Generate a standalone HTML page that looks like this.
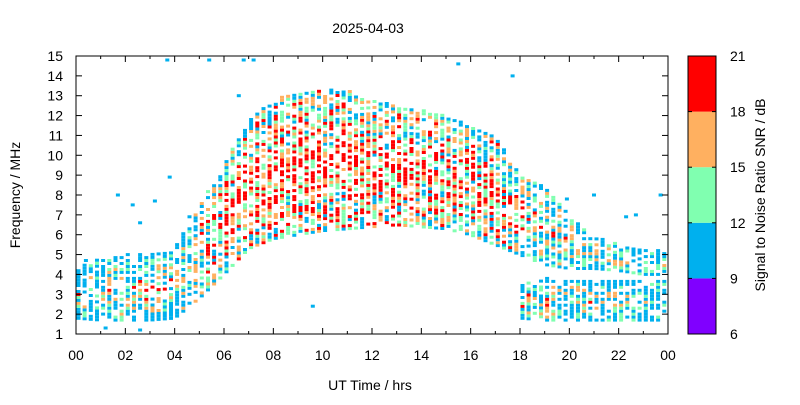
<!DOCTYPE html>
<html><head><meta charset="utf-8"><style>
body{margin:0;background:#fff;}
svg text{font-family:"Liberation Sans",sans-serif;font-size:14px;fill:#000;}
</style></head><body>
<svg id="chart" width="800" height="400" xmlns="http://www.w3.org/2000/svg">
<rect width="800" height="400" fill="#fff"/>
<text x="368" y="33" text-anchor="middle">2025-04-03</text>
<g id="cells"></g>
<rect x="76" y="56" width="592" height="278" fill="none" stroke="#000" stroke-width="1"/>
<g id="axes"></g>
<text x="370" y="390" text-anchor="middle">UT Time / hrs</text>
<text transform="translate(20,195) rotate(-90)" text-anchor="middle">Frequency / MHz</text>
<g id="cbar"></g>
<text transform="translate(765,195) rotate(-90)" text-anchor="middle">Signal to Noise Ratio SNR / dB</text>
</svg>
<script>
const hours=[0,1,2,3,4,5,6,7,8,9,10,11,12,13,14,15,16,17,18,19,20,21,22,23,24];
const mainLo=[1.8,1.7,1.7,1.7,1.8,2.8,4.0,5.3,5.8,6.0,6.2,6.3,6.4,6.5,6.4,6.3,6.0,5.5,5.0,4.5,4.3,4.3,4.2,4.0,4.0];
const mainHi=[4.5,4.8,5.0,5.0,5.3,7.5,9.5,11.8,12.8,13.2,13.3,13.3,12.8,12.5,12.3,12.0,11.5,11.0,9.0,8.5,7.0,6.0,5.5,5.2,5.2];
const lowLo=[0,0,0,0,0,0,0,0,0,0,0,0,0,0,0,0,0,0,1.8,1.7,1.7,1.7,1.7,1.7,1.7];
const lowHi=[0,0,0,0,0,0,0,0,0,0,0,0,0,0,0,0,0,0,3.5,3.8,3.8,3.7,3.7,3.7,3.7];
const snrMean=[13.5,13.5,14,14,13.5,15.5,18,18.5,19,19,19,19,18.5,18,17.5,17.5,18,18,16,15,14,13,12.5,12.5,12.5];
const outliers=[[6.8,14.8],[5.4,14.8],[7.2,14.8],[3.7,14.8],[15.5,14.6],[17.7,14],[6.6,13],[1.7,8],[2.3,7.5],[3.2,7.7],[3.8,8.9],[4.6,6.9],[2.6,6.6],[9.6,2.4],[1.2,1.3],[2.6,1.2],[0.4,4.7],[23.7,8],[22.7,7],[21,8],[19.9,7.8],[22.3,6.9]];
const snrTicks=[6,9,12,15,18,21];
const snrColors=["#8000ff","#00b0ee","#80ffb0","#ffb060","#ff0000"];
const X0=76,X1=668,Y0=334,Y1=56;
const xs=h=>X0+(X1-X0)*h/24;
const ys=f=>Y0-(Y0-Y1)*(f-1)/14;
const interp=(arr,h)=>{const i=Math.min(23,Math.floor(h));const t=h-i;return arr[i]*(1-t)+arr[i+1]*t;};
const hash=(a,b)=>{let n=(a*374761393+b*668265263)|0;n=(n^(n>>>13))*1274126177|0;n=n^(n>>>16);return ((n>>>0)%10000)/10000;};
const colorFor=v=>{const i=Math.max(1,Math.min(4,Math.floor((v-6)/3)));return snrColors[i];};
const NS="http://www.w3.org/2000/svg";
const cells=document.getElementById('cells');
function cell(h,f,col){const r=document.createElementNS(NS,'rect');


r.setAttribute('x',(xs(h)-2).toFixed(1));r.setAttribute('y',(ys(f)-1.5).toFixed(1));
r.setAttribute('width',4);r.setAttribute('height',3);r.setAttribute('fill',col);cells.appendChild(r);}
function lowBand(h){const i=Math.min(23,Math.floor(h));if(!lowHi[i]||!lowHi[i+1])return [0,0];return [interp(lowLo,h),interp(lowHi,h)];}
for(let c=0;c<96;c++){const h=c*0.25+0.1;
 const lb=lowBand(h);
 const bands=[[interp(mainLo,h),interp(mainHi,h),0.72],[lb[0],lb[1],0.7]];
 const m=interp(snrMean,h);
 bands.forEach((b,bi)=>{if(b[1]<=0)return;const lo=Math.max(1.2,b[0]),hi=b[1];
  for(let k=0;;k++){const f=lo+k*0.15;if(f>hi)break;
   const r1=hash(c*3+bi,k);if(r1>b[2])continue;
   const mid=(f-lo)/(hi-lo+0.01);const edge=1-Math.abs(mid-0.45)*2;
   const v=m-5+edge*5+(hash(k+7,c*5+bi)-0.5)*12;
   cell(h,f,colorFor(v));}
 });}
outliers.forEach(o=>cell(o[0],o[1],snrColors[1]));
const ax=document.getElementById('axes');
function el(tag,attrs,txt,name){const e=document.createElementNS(NS,tag);for(const k in attrs)e.setAttribute(k,attrs[k]);


if(txt!==undefined)e.textContent=txt;return e;}
for(let h=0;h<=24;h+=2){const x=xs(h);
 ax.appendChild(el('line',{x1:x,x2:x,y1:Y0,y2:Y0-6,stroke:'#000'},undefined,'x-tick'));
 ax.appendChild(el('line',{x1:x,x2:x,y1:Y1,y2:Y1+6,stroke:'#000'},undefined,'x-tick-top'));
 ax.appendChild(el('text',{x:x,y:360,'text-anchor':'middle'},String(h%24).padStart(2,'0'),'x-tick-label'));}
for(let h=1;h<24;h+=2){const x=xs(h);
 ax.appendChild(el('line',{x1:x,x2:x,y1:Y0,y2:Y0-3,stroke:'#000'},undefined,'x-minor-tick'));
 ax.appendChild(el('line',{x1:x,x2:x,y1:Y1,y2:Y1+3,stroke:'#000'},undefined,'x-minor-tick-top'));}
for(let f=1;f<=15;f++){const y=ys(f);
 ax.appendChild(el('line',{x1:X0,x2:X0+6,y1:y,y2:y,stroke:'#000'},undefined,'y-tick'));
 ax.appendChild(el('line',{x1:X1,x2:X1-6,y1:y,y2:y,stroke:'#000'},undefined,'y-tick-right'));
 ax.appendChild(el('text',{x:63,y:y+5,'text-anchor':'end'},String(f),'y-tick-label'));}
const cb=document.getElementById('cbar');const cy=v=>334-278*(v-6)/15;
for(let i=0;i<5;i++){cb.appendChild(el('rect',{x:688,y:cy(snrTicks[i+1]),width:28,height:cy(snrTicks[i])-cy(snrTicks[i+1]),fill:snrColors[i]},undefined,'colorbar-segment'));}
cb.appendChild(el('rect',{x:688,y:56,width:28,height:278,fill:'none',stroke:'#000'},undefined,'colorbar-frame'));
snrTicks.forEach(v=>{const y=cy(v);
 cb.appendChild(el('line',{x1:688,x2:692,y1:y,y2:y,stroke:'#000'},undefined,'colorbar-tick'));
 cb.appendChild(el('line',{x1:716,x2:712,y1:y,y2:y,stroke:'#000'},undefined,'colorbar-tick-right'));
 cb.appendChild(el('text',{x:730,y:y+5},String(v),'colorbar-tick-label'));});
</script>
</body></html>
